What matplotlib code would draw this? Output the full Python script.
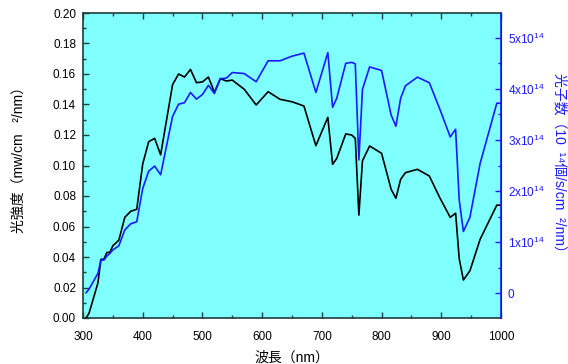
import matplotlib
matplotlib.use("Agg")
import matplotlib.pyplot as plt
from matplotlib.ticker import MultipleLocator

plt.rcParams['font.family'] = ['Liberation Sans', 'Noto Sans CJK JP', 'DejaVu Sans']
plt.rcParams['mathtext.fontset'] = 'custom'
plt.rcParams['mathtext.rm'] = 'Liberation Sans'
plt.rcParams['mathtext.default'] = 'regular'

wavelength = [305, 310, 325, 330, 335, 340, 345, 350, 360, 370, 380, 390, 400, 410, 420, 430,
              450, 460, 470, 480, 490, 500, 510, 520, 530, 540, 550, 570, 590, 610, 630, 650,
              670, 690, 710, 718, 725, 740, 750, 756, 762, 768, 780, 800, 816, 824, 832, 840,
              860, 880, 898, 915, 924, 930, 937, 948, 965, 993, 1000]
intensity = [0.000, 0.003, 0.023, 0.0385, 0.0385, 0.043, 0.043, 0.0474, 0.051, 0.066, 0.070, 0.0713,
             0.101, 0.1156, 0.1178, 0.107, 0.153, 0.160, 0.158, 0.163, 0.1543, 0.1548, 0.158, 0.148,
             0.157, 0.1554, 0.156, 0.150, 0.1397, 0.1484, 0.1434, 0.1418, 0.139, 0.113, 0.1316,
             0.1008, 0.1047, 0.1207, 0.120, 0.1178, 0.0675, 0.1031, 0.1128, 0.108, 0.0844, 0.0785,
             0.091, 0.0953, 0.0975, 0.0931, 0.0785, 0.066, 0.0687, 0.039, 0.0249, 0.031, 0.0516,
             0.074, 0.074]
photons_e14 = [0.01, 0.08, 0.39, 0.65, 0.65, 0.73, 0.78, 0.85, 0.93, 1.24, 1.36, 1.40, 2.05, 2.39,
               2.49, 2.32, 3.46, 3.70, 3.73, 3.93, 3.80, 3.89, 4.07, 3.91, 4.20, 4.21, 4.32, 4.30,
               4.14, 4.55, 4.55, 4.64, 4.70, 3.93, 4.71, 3.64, 3.82, 4.50, 4.52, 4.49, 2.61, 3.99,
               4.43, 4.36, 3.49, 3.27, 3.82, 4.06, 4.23, 4.12, 3.59, 3.06, 3.21, 1.83, 1.21, 1.49,
               2.54, 3.72, 3.72]

right_ticks = [0, 1, 2, 3, 4, 5]
right_labels = ['0', r'1x10$^{14}$', r'2x10$^{14}$', r'3x10$^{14}$', r'4x10$^{14}$', r'5x10$^{14}$']

BLUE = '#1a1aff'
SPINE = '#1e3c3c'

fig = plt.figure(figsize=(5.68, 3.64), dpi=100)
ax = fig.add_axes([83/568, 46/364, 418/568, 305/364])
ax.set_facecolor('#80ffff')
ax.plot(wavelength, intensity, color='black', lw=1.2, zorder=3)
ax.set_xlim(300, 1000)
ax.set_ylim(0, 0.20)
ax.xaxis.set_major_locator(MultipleLocator(100))
ax.xaxis.set_minor_locator(MultipleLocator(50))
ax.yaxis.set_major_locator(MultipleLocator(0.02))
ax.yaxis.set_minor_locator(MultipleLocator(0.01))
ax.yaxis.set_major_formatter(matplotlib.ticker.FormatStrFormatter('%.2f'))
ax.tick_params(axis='both', which='both', direction='in', labelsize=8.5, color=SPINE, pad=5)
ax.tick_params(axis='x', which='both', top=True, pad=9)
ax.tick_params(which='major', length=4, width=1)
ax.tick_params(which='minor', length=2.5, width=1)
for s in ['left', 'bottom', 'top']:
    ax.spines[s].set_color(SPINE)
    ax.spines[s].set_linewidth(1.2)
ax.set_xlabel('波長（nm）', fontsize=10, labelpad=6)
ax.set_ylabel('光強度（mw/cm   ²/nm）', fontsize=10, labelpad=18)
ax.yaxis.set_label_coords(-0.138, 0.53)

ax2 = ax.twinx()
ax2.plot(wavelength, photons_e14, color=BLUE, lw=1.2, zorder=3)
ax2.set_ylim(-0.483, 5.485)
ax2.set_yticks(right_ticks)
ax2.set_yticklabels(right_labels)
ax2.yaxis.set_minor_locator(MultipleLocator(0.5))
ax2.tick_params(axis='y', which='both', direction='in', colors=BLUE, labelsize=8.5, pad=5)
ax2.tick_params(which='major', length=4, width=1)
ax2.tick_params(which='minor', length=2.5, width=1)
ax2.spines['right'].set_color(BLUE)
ax2.spines['right'].set_linewidth(1.2)
for s in ['left', 'bottom', 'top']:
    ax2.spines[s].set_visible(False)
ax2.set_ylabel('光子数（10  ¹⁴個/s/cm  ²/nm）', fontsize=10, color=BLUE, rotation=270, labelpad=16)

fig.savefig('out.png', dpi=100)
